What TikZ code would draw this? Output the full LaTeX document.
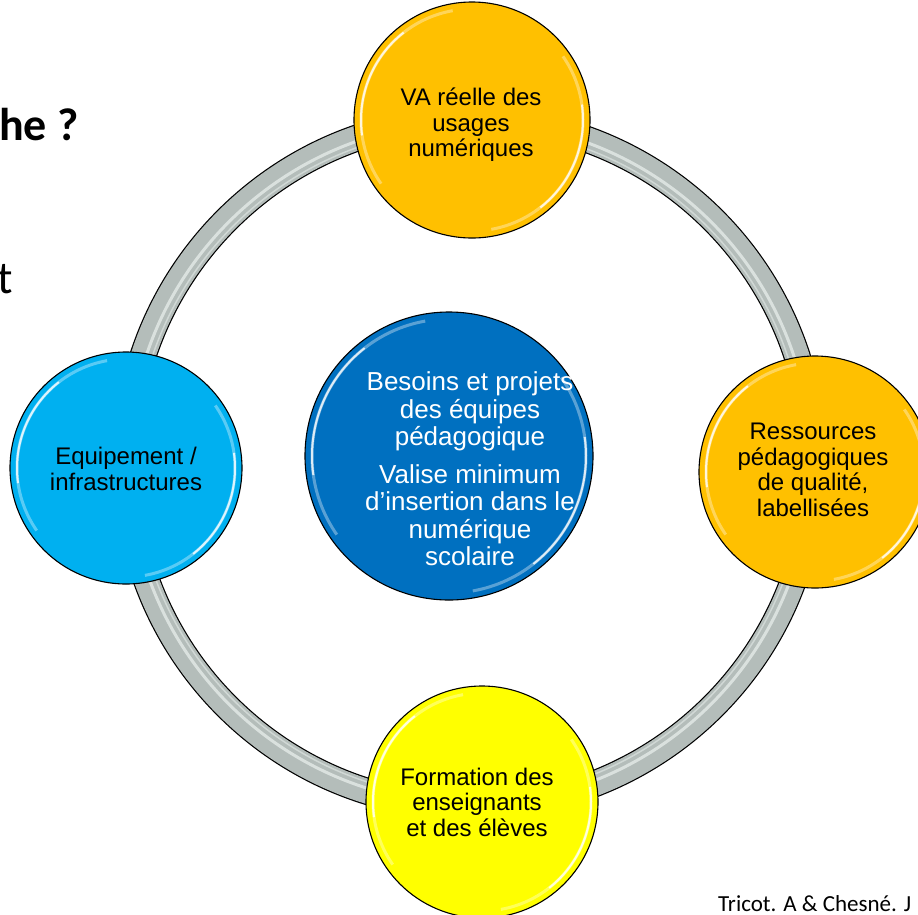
\documentclass[tikz,border=0pt]{standalone}
\usepackage{fontspec}
\setmainfont{Liberation Sans}
\newfontfamily\califont{Carlito}
\definecolor{ringgrey}{HTML}{B4BDBA}
\definecolor{ringlight}{HTML}{E4EAE8}
\definecolor{gold}{HTML}{FFC000}
\definecolor{skyb}{HTML}{00B0F0}
\definecolor{deepb}{HTML}{0070C0}
\definecolor{yel}{HTML}{FFFF00}
\newcommand\glossy[2]{%
  \draw[white, opacity=0.35, line width=3pt] ([shift={(100:#2-7)}]#1.center) arc[start angle=100, end angle=215, radius=#2-7];
  \draw[white, opacity=0.8, line width=2pt] ([shift={(128:#2-7)}]#1.center) arc[start angle=128, end angle=188, radius=#2-7];
  \draw[white, opacity=0.35, line width=3pt] ([shift={(-80:#2-7)}]#1.center) arc[start angle=-80, end angle=35, radius=#2-7];
  \draw[white, opacity=0.8, line width=2pt] ([shift={(-52:#2-7)}]#1.center) arc[start angle=-52, end angle=8, radius=#2-7];
}
\tikzset{
  bubble/.style={circle, draw=black, line width=1.1pt, inner sep=0pt, minimum size=#1},
  smalltxt/.style={align=center, inner sep=0pt, font=\fontsize{24}{25.5}\selectfont},
  bigtxt/.style={align=center, inner sep=0pt, text=white, font=\fontsize{26}{27.5}\selectfont},
}
\begin{document}
\begin{tikzpicture}[x=1pt,y=1pt]
\useasboundingbox (0,0) rectangle (918,-914);
\clip (0,0) rectangle (918,-914);
\fill[white] (0,0) rectangle (918,-914);
% ring
\coordinate (ringc) at (470,-463);
\draw[black, line width=27pt] (ringc) circle[radius=344];
\draw[ringgrey, line width=24.6pt] (ringc) circle[radius=344];
\draw[ringlight, line width=3pt, opacity=0.8] (ringc) circle[radius=341];
\draw[ringlight, line width=1.5pt, opacity=0.6] (ringc) circle[radius=335];
% circles
\node[bubble=236pt, fill=gold] (va) at (472,-120) {};
\node[bubble=232pt, fill=gold] (res) at (815,-472) {};
\node[bubble=232pt, fill=skyb] (equip) at (126,-468) {};
\node[bubble=232pt, fill=yel] (form) at (482,-802) {};
\node[bubble=288pt, fill=deepb] (core) at (449,-456) {};
\glossy{va}{118}
\glossy{res}{116}
\glossy{equip}{116}
\glossy{form}{116}
\glossy{core}{144}
% texts
\node[smalltxt] (vatxt) at (471,-125) {VA réelle des\\usages\\numériques};
\node[smalltxt] (restxt) at (813,-470) {Ressources\\pédagogiques\\de qualité,\\labellisées};
\node[smalltxt] (equiptxt) at (126,-469) {Equipement /\\infrastructures};
\node[smalltxt] (formtxt) at (477,-802) {Formation des\\enseignants\\et des élèves};
\node[bigtxt] (coretxt) at (470,-469) {Besoins et projets\\des équipes\\pédagogique\\[10pt]Valise minimum\\d’insertion dans le\\numérique\\scolaire};
% slide text fragments
\node[anchor=base east, inner sep=0pt, font=\califont\bfseries\fontsize{46}{50}\selectfont] (q) at (79,-140) {he ?};
\node[anchor=base east, inner sep=0pt, font=\califont\fontsize{46}{50}\selectfont] (t) at (13,-293) {t};
\node[anchor=base west, inner sep=0pt, font=\califont\fontsize{23}{26}\selectfont] (cite) at (718,-911) {Tricot. A \& Chesné. J};
\end{tikzpicture}
\end{document}
